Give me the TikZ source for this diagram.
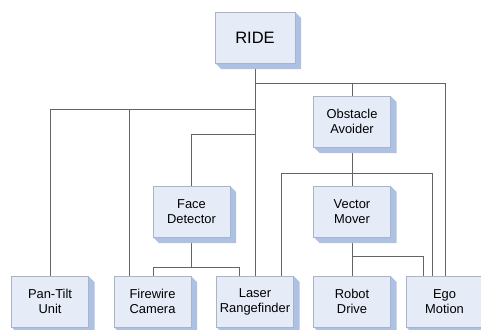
\documentclass[tikz,border=0pt]{standalone}
\usepackage{fontspec}
\setmainfont{Liberation Sans}
\usetikzlibrary{backgrounds}
\definecolor{facefill}{RGB}{230,236,247}
\definecolor{faceedge}{RGB}{170,180,196}
\definecolor{shadowblue}{RGB}{172,193,228}
\definecolor{linegray}{RGB}{100,100,100}
\tikzset{
  unitbox/.style={draw=faceedge, line width=0.5pt, fill=facefill, inner sep=0pt, outer sep=0pt,
    minimum width=77pt, minimum height=51pt, align=center,
    font=\fontsize{12.9}{15}\selectfont,
    append after command={
      \pgfextra{\fill[shadowblue] (\tikzlastnode.north east) -- ([shift={(6,6)}]\tikzlastnode.north east)
        -- ([shift={(6,6)}]\tikzlastnode.south east) -- ([shift={(6,6)}]\tikzlastnode.south west)
        -- (\tikzlastnode.south west) -- cycle;}
    }},
  topbox/.style={unitbox, minimum width=80pt, font=\fontsize{16.5}{19}\selectfont},
  conn/.style={draw=linegray, line width=0.95pt}
}
\begin{document}
\begin{tikzpicture}[x=1pt,y=-1pt]
\useasboundingbox (0,0) rectangle (481,329);
\node[topbox] (ride) at (255,37.5) {RIDE};
\node[unitbox] (obst) at (352,121.5) {Obstacle\\Avoider};
\node[unitbox] (face) at (191.5,211.5) {Face\\Detector};
\node[unitbox] (vect) at (352,211.5) {Vector\\Mover};
\node[unitbox] (pan) at (50,301.5) {Pan-Tilt\\Unit};
\node[unitbox] (fire) at (152.5,301.5) {Firewire\\Camera};
\node[unitbox] (laser) at (255,301.5) {Laser\\Rangefinder};
\node[unitbox] (robot) at (352,301.5) {Robot\\Drive};
\node[unitbox] (ego) at (444.5,301.5) {Ego\\Motion};
% junction levels and port positions
\coordinate (ya) at (0,83);
\coordinate (yb) at (0,109);
\coordinate (yc) at (0,134);
\coordinate (yd) at (0,173);
\coordinate (ye) at (0,256);
\coordinate (yf) at (0,267);
\coordinate (fireA) at ([xshift=-23.5pt]fire.north);
\coordinate (fireB) at ([xshift=0.5pt]fire.north);
\coordinate (laserA) at ([xshift=-16pt]laser.north);
\coordinate (laserB) at ([xshift=26pt]laser.north);
\coordinate (egoA) at ([xshift=-21.5pt]ego.north);
\coordinate (egoB) at ([xshift=-12.5pt]ego.north);
\coordinate (egoC) at ([xshift=0.5pt]ego.north);
\coordinate (faceT) at ([xshift=-0.5pt]face.north);
\coordinate (faceB) at ([xshift=-0.5pt]face.south);
\begin{scope}[on background layer]
  % RIDE
  \draw[conn] (ride.south) -- (laser.north);
  \draw[conn] (ride.south |- ya) -| (egoC);
  \draw[conn] (obst.north |- ya) -- (obst.north);
  \draw[conn] (ride.south |- yb) -| (pan.north);
  \draw[conn] (fireA |- yb) -- (fireA);
  \draw[conn] (ride.south |- yc) -| (faceT);
  % Obstacle Avoider
  \draw[conn] (obst.south) -- (vect.north);
  \draw[conn] (laserB) |- (egoB |- yd) -- (egoB);
  % Face Detector
  \draw[conn] (faceB) -- (faceB |- yf);
  \draw[conn] (fireB) |- (laserA |- yf) -- (laserA);
  % Vector Mover
  \draw[conn] (vect.south) -- (robot.north);
  \draw[conn] (vect.south |- ye) -| (egoA);
\end{scope}
\end{tikzpicture}
\end{document}
